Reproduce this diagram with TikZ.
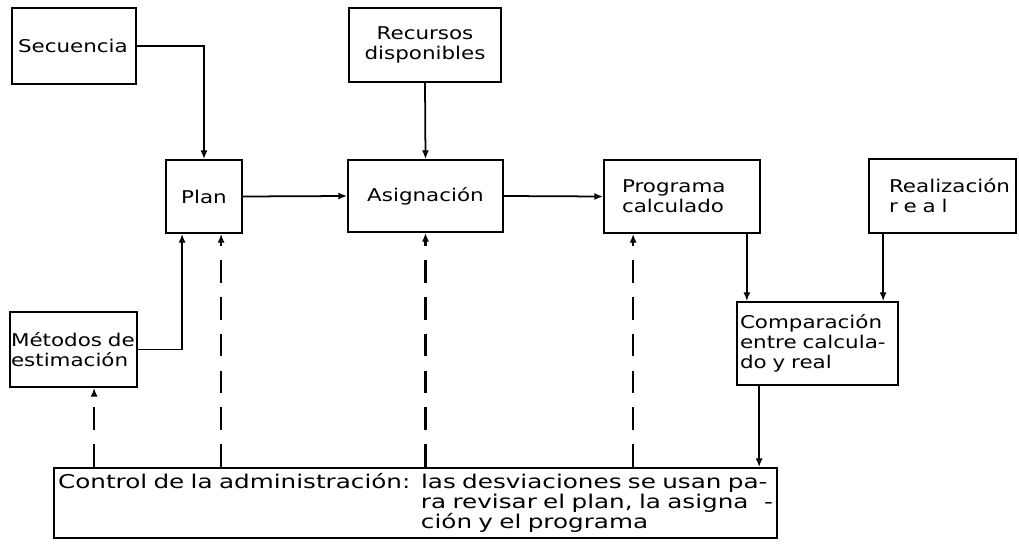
\documentclass[tikz,border=0pt]{standalone}
\usepackage{fontspec}
\setmainfont{DejaVu Sans}[FakeStretch=1.22]
\newfontfamily\ctrlfam{DejaVu Sans}[FakeStretch=1.3]
\usetikzlibrary{arrows.meta,calc}
\protected\def\boxfont{\fontsize{10}{11.4}\selectfont}
\protected\def\ctrlfont{\ctrlfam\fontsize{10.8}{11.4}\selectfont}

\begin{document}
\begin{tikzpicture}[x=0.02cm,y=-0.02cm,
  box/.style={draw, line width=1pt, rectangle, inner ysep=0pt, font=\boxfont},
  lbox/.style n args={3}{box, align=left, minimum width=#1, text width=#2, inner xsep=#3},
  cbox/.style={box, align=center, inner xsep=0pt},
  arr/.style={-{Latex[open,length=5pt,width=4pt]}, line width=1pt},
  dsh/.style={-{Latex[open,length=5pt,width=4pt]}, line width=1.4pt, dash pattern=on 13pt off 8pt}]
\useasboundingbox (0,0) rectangle (1019,548);

% blocks
\node[lbox={2.48cm}{2.24cm}{0.12cm}, minimum height=1.52cm] (Sec) at (74,46) {Secuencia};
\node[cbox, minimum width=3.04cm, minimum height=1.48cm] (Rec) at (425,45) {Recursos\\disponibles};
\node[cbox, minimum width=1.52cm, minimum height=1.46cm] (Plan) at (204,196.5) {Plan};
\node[cbox, minimum width=3.1cm, minimum height=1.44cm] (Asig) at (425.5,196) {Asignación};
\node[lbox={3.12cm}{2.4cm}{0.36cm}, minimum height=1.46cm] (Prog) at (682,196.5) {Programa\\calculado};
\node[lbox={2.94cm}{2.14cm}{0.4cm}, minimum height=1.48cm] (Real) at (942.5,196) {Realización\\r~e~a~l};
\node[lbox={2.54cm}{2.5cm}{0.02cm}, minimum height=1.5cm] (Met) at (73.5,349.5) {Métodos de\\estimación};
\node[lbox={3.22cm}{3.1cm}{0.06cm}, minimum height=1.66cm] (Comp) at (817.5,343.5) {Comparación\\entre calcula-\\do y real};
\node[lbox={14.46cm}{14.3cm}{0.08cm}, minimum height=1.4cm, font=\ctrlfont] (Ctrl) at (415.5,503)
  {Control de la administración:\hfill\parbox[t]{7.04cm}{\ctrlfont las desviaciones se usan pa-\\ra revisar el plan, la asigna\hfill -\\ción y el programa}};

% attachment points
\coordinate (pl) at ($(Plan.south west)+(17,0)$);
\coordinate (pr) at ($(Plan.south west)+(56,0)$);
\coordinate (pc) at ($(Prog.south east)+(-14,0)$);
\coordinate (pd) at ($(Prog.south west)+(30,0)$);
\coordinate (rc) at ($(Real.south west)+(15,0)$);
\coordinate (cc) at ($(Comp.south west)+(23,0)$);
\coordinate (md) at ($(Met.south west)+(85,0)$);

% solid flows
\draw[arr] (Sec.east) -| (Plan.north);
\draw[arr] (Rec.south) -- (Asig.north);
\draw[arr] (Plan.east) -- (Asig.west);
\draw[arr] (Asig.east) -- (Prog.west);
\draw[arr] (Met.east) -| (pl);
\draw[arr] (pc) -- (pc |- Comp.north);
\draw[arr] (rc) -- (rc |- Comp.north);
\draw[arr] (cc) -- (cc |- Ctrl.north);

% feedback from management control
\draw[dsh] (md |- Ctrl.north) -- (md);
\draw[dsh] (pr |- Ctrl.north) -- (pr);
\draw[dsh] (Asig.south |- Ctrl.north) -- (Asig.south);
\draw[dsh] (pd |- Ctrl.north) -- (pd);
\end{tikzpicture}
\end{document}
